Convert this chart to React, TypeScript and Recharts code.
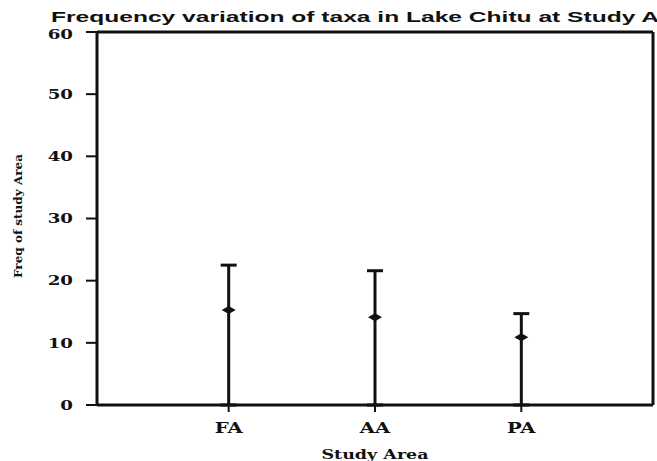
import { ErrorBar, ReferenceLine, Scatter, ScatterChart, XAxis, YAxis } from "recharts";

const categories = ["FA", "AA", "PA"];
const means = [15.3, 14.1, 10.9];
const upper = [22.5, 21.6, 14.7];
const yTicks = [0, 10, 20, 30, 40, 50, 60];

const data = categories.map((c, i) => ({
  x: i + 1,
  y: means[i],
  err: [means[i], upper[i] - means[i]],
  name: c,
}));

const serif = "'DejaVu Serif', serif";

function YTick(props: any) {
  const { x, y, payload } = props;
  return (
    <g transform={`translate(${x},${y})`}>
      <text
        textAnchor="end"
        dy={payload.value === 60 ? "0.5em" : "0.36em"}
        transform="scale(1.4,1)"
        fontFamily={serif}
        fontWeight="bold"
        fontSize={13}
        fill="#111"
      >
        {payload.value}
      </text>
    </g>
  );
}

function XTick(props: any) {
  const { x, y, payload } = props;
  return (
    <g transform={`translate(${x},${y})`}>
      <text
        textAnchor="middle"
        dy={17}
        transform="scale(1.4,1)"
        fontFamily={serif}
        fontWeight="bold"
        fontSize={14}
        fill="#111"
      >
        {categories[payload.value - 1]}
      </text>
    </g>
  );
}

function Diamond(props: any) {
  const { cx, cy } = props;
  return (
    <polygon
      points={`${cx - 7},${cy} ${cx},${cy - 4} ${cx + 7},${cy} ${cx},${cy + 4}`}
      fill="#111"
    />
  );
}

export default function App() {
  return (
    <div style={{ position: "absolute", left: 0, top: 0, width: 657, height: 461, background: "#fff" }}>
      <ScatterChart width={657} height={461} margin={{ top: 32, right: 4, left: 0, bottom: 0 }}>
        <XAxis
          type="number"
          dataKey="x"
          domain={[0.1, 3.9]}
          ticks={[1, 2, 3]}
          allowDataOverflow
          height={56}
          axisLine={{ stroke: "#111", strokeWidth: 3 }}
          tickLine={{ stroke: "#111", strokeWidth: 2 }}
          tickSize={7}
          tickMargin={4}
          tick={<XTick />}
          label={{
            content: () => (
              <g transform="translate(375,459)">
                <text
                  textAnchor="middle"
                  transform="scale(1.4,1)"
                  fontFamily={serif}
                  fontWeight="bold"
                  fontSize={12.5}
                  fill="#111"
                >
                  Study Area
                </text>
              </g>
            ),
          }}
        />
        <YAxis
          type="number"
          dataKey="y"
          domain={[0, 60]}
          ticks={yTicks}
          width={97}
          axisLine={{ stroke: "#111", strokeWidth: 3 }}
          tickLine={{ stroke: "#111", strokeWidth: 2 }}
          tickSize={11}
          tickMargin={13}
          tick={<YTick />}
          label={{
            content: () => (
              <text
                x={0}
                y={0}
                transform="translate(22,216) rotate(-90)"
                textAnchor="middle"
                fontFamily={serif}
                fontWeight="bold"
                fontSize={11}
                textLength={124}
                lengthAdjust="spacingAndGlyphs"
                fill="#111"
              >
                Freq of study Area
              </text>
            ),
          }}
        />
        <ReferenceLine y={60} stroke="#111" strokeWidth={3} />
        <ReferenceLine x={3.9} stroke="#111" strokeWidth={3} />
        <Scatter data={data} shape={<Diamond />} isAnimationActive={false}>
          <ErrorBar dataKey="err" direction="y" width={8} stroke="#111" strokeWidth={3} />
        </Scatter>
      </ScatterChart>
      <svg
        width={657}
        height={40}
        style={{ position: "absolute", left: 0, top: 0, pointerEvents: "none" }}
      >
        <text
          x={51}
          y={22}
          fontFamily="'Liberation Sans', Arial, sans-serif"
          fontWeight="bold"
          fontSize={15.5}
          textLength={608}
          lengthAdjust="spacingAndGlyphs"
          fill="#111"
        >
          Frequency variation of taxa in Lake Chitu at Study A
        </text>
      </svg>
    </div>
  );
}
